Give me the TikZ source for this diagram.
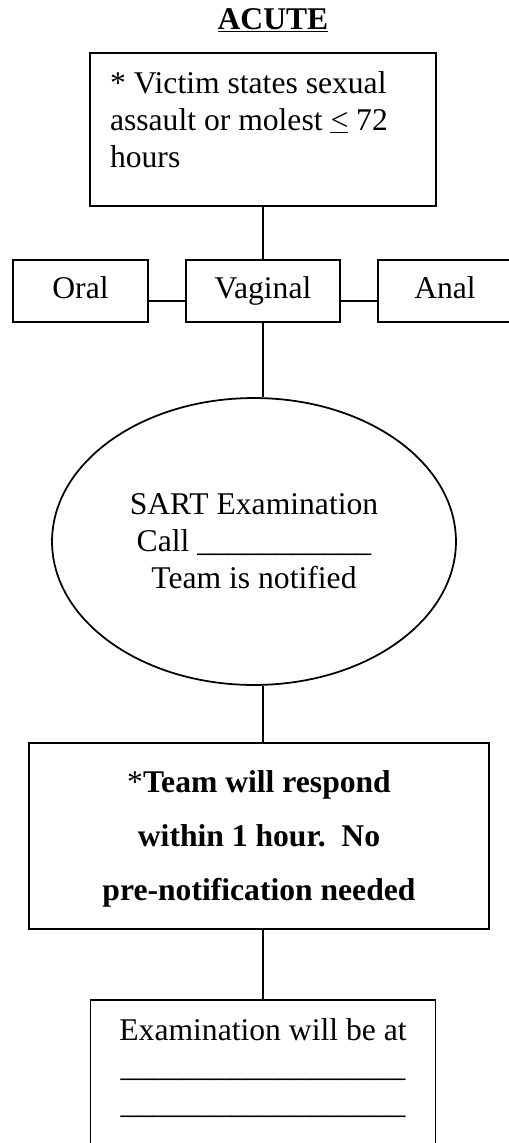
\documentclass[tikz,border=0pt]{standalone}
\usepackage{fontspec}
\setmainfont{Liberation Serif}
\usetikzlibrary{shapes.geometric}

\begin{document}
\begin{tikzpicture}[x=0.02cm, y=-0.02cm, line width=1pt,
  flowbox/.style={draw, rectangle, inner sep=0pt, font=\fontsize{18}{21}\selectfont},
  kind/.style={flowbox, minimum height=1.24cm, text height=0.44cm, text depth=0.16cm},
  oval/.style={draw, ellipse, inner sep=0pt, align=center, font=\fontsize{18}{21}\selectfont}]
  \useasboundingbox (0,0) rectangle (508,1143);

  % Titulo
  \node[anchor=base, font=\fontsize{18}{21}\selectfont\bfseries] (title) at (273,29) {\underline{ACUTE}};

  % Caja inicial
  \node[flowbox, minimum width=6.92cm, minimum height=3.06cm, text width=6.12cm,
    align=flush left, text depth=1.89cm] (victim) at (263,129.5)
    {* Victim states sexual\\ assault or molest \underline{<} 72\\ hours};

  % Tipos
  \node[kind, minimum width=2.70cm] (oral) at (80.5,291) {Oral};
  \node[kind, minimum width=3.08cm] (vaginal) at (263,291) {Vaginal};
  \node[kind, minimum width=2.68cm] (anal) at (445,291) {Anal};

  % Examen SART
  \node[oval, minimum width=8.08cm, minimum height=5.74cm] (sart) at (254,541.5)
    {SART Examination\\ Call \_\_\_\_\_\_\_\_\_\_\_\\ Team is notified};

  % Respuesta del equipo
  \node[flowbox, minimum width=9.2cm, minimum height=3.72cm, align=center,
    font=\fontsize{18}{31}\selectfont, text depth=0.02cm] (team) at (259,836)
    {*\textbf{Team will respond}\\ \textbf{within 1 hour.\ \ No}\\ \textbf{pre-notification needed}};

  % Lugar del examen
  \node[flowbox, minimum width=6.9cm, minimum height=3.6cm, align=center,
    text depth=0.96cm] (exam) at (263,1090)
    {Examination will be at\\ \_\_\_\_\_\_\_\_\_\_\_\_\_\_\_\_\_\_\\ \_\_\_\_\_\_\_\_\_\_\_\_\_\_\_\_\_\_};

  % Conexiones
  \draw (victim.south) -- (vaginal.north);
  \draw ([yshift=-0.2cm]oral.east) -- ([yshift=-0.2cm]vaginal.west);
  \draw ([yshift=-0.2cm]vaginal.east) -- ([yshift=-0.2cm]anal.west);
  \draw (vaginal.south) -- (vaginal.south |- sart.north);
  \draw (vaginal.south |- sart.south) -- (vaginal.south |- team.north);
  \draw (exam.north |- team.south) -- (exam.north);
\end{tikzpicture}
\end{document}
